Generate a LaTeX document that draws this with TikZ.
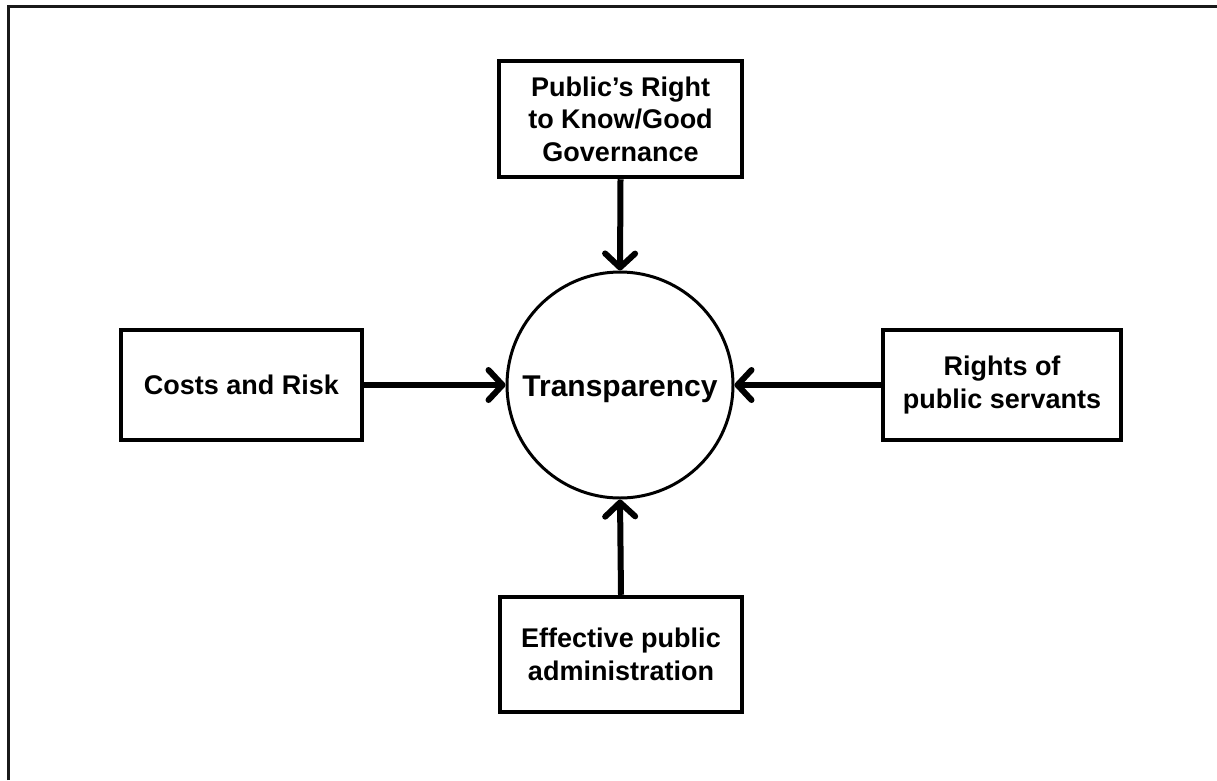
\documentclass[tikz,border=0pt]{standalone}
\usepackage{fontspec}
\setmainfont{Liberation Sans}
\usetikzlibrary{arrows.meta}
\begin{document}
\begin{tikzpicture}[x=1pt,y=-1pt,
  lbl/.style={font=\fontsize{27}{32.5}\selectfont\bfseries},
  box/.style={lbl,draw=black,line width=4.5pt,fill=white,inner sep=0pt,align=center},
  conn/.style={line width=6pt,-{Straight Barb[length=14pt,width=30pt,line cap=round,line join=round]}},
  frame/.style={line width=3pt,draw=black!90}]
\useasboundingbox (0,0) rectangle (1217,780);
\coordinate (fa) at (8.5,780);
\coordinate (fb) at (8.5,6.5);
\coordinate (fc) at (1217,6.5);
\draw[frame] (fa) -- (fb) -- (fc);
\node[font=\fontsize{30}{36}\selectfont\bfseries,draw=black,line width=3pt,circle,minimum size=226pt,inner sep=0pt,text height=22pt,text depth=0pt] (t) at (620,385) {Transparency};
\node[box,minimum width=243pt,minimum height=116pt] (top) at (620.5,119) {Public’s Right\\to Know/Good\\Governance};
\node[box,minimum width=241pt,minimum height=110pt] (left) at (241.5,385) {Costs and Risk};
\node[box,minimum width=238pt,minimum height=110pt] (right) at (1002,385) {Rights of\\public servants};
\node[box,minimum width=242pt,minimum height=115pt] (bot) at (621,654.5) {Effective public\\administration};
\draw[conn] (top.south) -- (t.north);
\draw[conn] (bot.north) -- (t.south);
\draw[conn] (left.east) -- (t.west);
\draw[conn] (right.west) -- (t.east);
\end{tikzpicture}
\end{document}
